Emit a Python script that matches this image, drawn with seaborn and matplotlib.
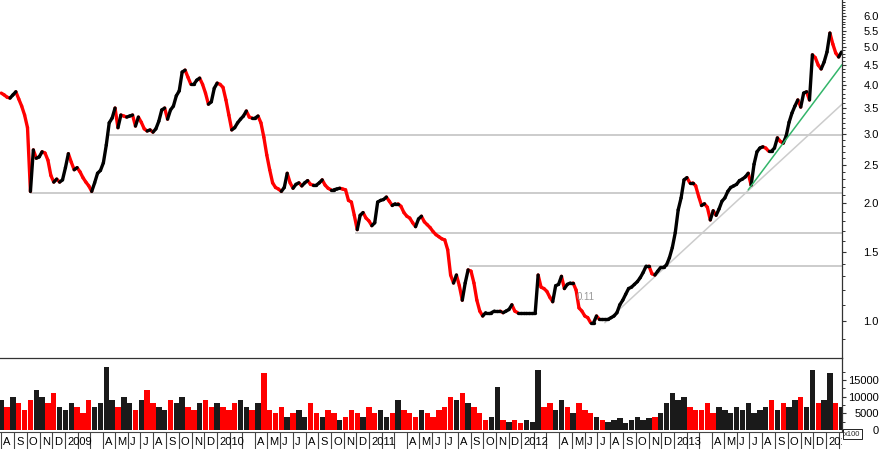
import numpy as np
import pandas as pd
import matplotlib
matplotlib.use('Agg')
import matplotlib.pyplot as plt
from matplotlib.ticker import FixedLocator, NullFormatter, FixedFormatter
import seaborn as sns

# weekly closes, starting 2008-08-01
start = '2008-08-01'
closes = [
    3.81, 3.77, 3.72, 3.70, 3.77, 3.84, 3.68, 3.53, 3.35, 3.11,
    2.14, 2.73, 2.60, 2.62, 2.70, 2.68, 2.57, 2.35, 2.26, 2.30,
    2.26, 2.29, 2.46, 2.67, 2.54, 2.43, 2.46, 2.40, 2.32, 2.26,
    2.21, 2.14, 2.25, 2.38, 2.42, 2.53, 2.81, 3.20, 3.29, 3.49,
    3.11, 3.35, 3.33, 3.31, 3.33, 3.35, 3.14, 3.31, 3.21, 3.09,
    3.05, 3.07, 3.03, 3.09, 3.23, 3.45, 3.49, 3.27, 3.45, 3.53,
    3.75, 3.86, 4.31, 4.36, 4.18, 4.01, 4.01, 4.11, 4.16, 4.01,
    3.81, 3.57, 3.62, 3.92, 4.04, 4.01, 3.94, 3.66, 3.35, 3.07,
    3.11, 3.20, 3.27, 3.33, 3.43, 3.31, 3.29, 3.29, 3.33, 3.20,
    2.94, 2.65, 2.43, 2.25, 2.19, 2.17, 2.14, 2.19, 2.38, 2.25,
    2.18, 2.23, 2.25, 2.21, 2.25, 2.28, 2.23, 2.22, 2.22, 2.25,
    2.29, 2.22, 2.18, 2.16, 2.16, 2.17, 2.18, 2.17, 2.16, 2.03,
    2.01, 1.86, 1.71, 1.86, 1.89, 1.83, 1.80, 1.75, 1.78, 2.01,
    2.03, 2.04, 2.07, 2.02, 1.97, 1.99, 1.99, 1.96, 1.89, 1.85,
    1.83, 1.78, 1.74, 1.82, 1.85, 1.79, 1.76, 1.73, 1.69, 1.66,
    1.64, 1.62, 1.61, 1.52, 1.31, 1.25, 1.31, 1.23, 1.13, 1.25,
    1.35, 1.34, 1.25, 1.13, 1.06, 1.03, 1.05, 1.05, 1.05, 1.06,
    1.06, 1.06, 1.05, 1.06, 1.07, 1.10, 1.06, 1.05, 1.05, 1.05,
    1.05, 1.05, 1.05, 1.05, 1.31, 1.22, 1.21, 1.19, 1.15, 1.12,
    1.23, 1.24, 1.30, 1.21, 1.24, 1.25, 1.25, 1.20, 1.08, 1.06,
    1.03, 1.02, 0.99, 0.99, 1.03, 1.01, 1.01, 1.01, 1.01, 1.02,
    1.03, 1.05, 1.10, 1.13, 1.17, 1.21, 1.22, 1.24, 1.26, 1.29,
    1.33, 1.38, 1.38, 1.32, 1.31, 1.34, 1.37, 1.37, 1.39, 1.45,
    1.54, 1.68, 1.92, 2.06, 2.29, 2.32, 2.25, 2.25, 2.21, 2.08,
    1.97, 1.99, 1.95, 1.81, 1.91, 1.86, 1.93, 2.02, 2.06, 2.14,
    2.19, 2.21, 2.23, 2.28, 2.30, 2.33, 2.38, 2.22, 2.51, 2.70,
    2.76, 2.78, 2.76, 2.71, 2.71, 2.76, 2.93, 2.87, 2.84, 2.96,
    3.21, 3.39, 3.53, 3.66, 3.51, 3.81, 3.84, 3.66, 4.77, 4.69,
    4.49, 4.39, 4.57, 4.85, 5.42, 5.08, 4.82, 4.71, 4.85,
]

# two-weekly volume (x100)
volumes = [
    9000, 7000, 10000, 8000, 6000, 9000,
    12000, 10000, 8000, 11000, 7000,
    6000, 8000, 7000, 5000, 9000, 7000, 8000,
    19000,
    9000, 7000, 10000, 8000, 6000, 9000, 12000, 8000, 7000, 6000,
    9000, 8000, 10000, 7000, 6000, 8000, 9000, 7000, 8000,
    7000, 6000, 8000, 9000, 7000, 6000, 8000, 17000,
    6000, 5000, 7000, 4000, 5000, 6000, 4000, 8000, 5000, 4000,
    6000, 5000, 3000, 4000, 6000, 5000, 4000, 7000, 5000, 6000,
    4000, 5000, 9000, 6000, 5000, 4000, 6000, 5000, 4000, 6000, 7000,
    10000, 9000, 11000, 8000, 7000, 5000,
    3000, 4000, 13000, 3000, 2500, 3000, 2000, 3000, 2500,
    18000,
    7000, 8000, 6000, 9000, 7000, 5000, 8000, 6000, 5000, 4000,
    3000, 2500, 3000, 3500, 2000, 3000, 4000, 3000, 3500, 4000, 5000,
    8000, 11000, 9000, 10000, 7000, 6000,
    6000, 8000, 5000, 7000, 6000, 5000, 7000, 6000, 8000, 5000,
    6000, 7000, 9000, 6000, 8000, 7000, 9000, 10000,
    7000, 18000, 8000, 9000, 17000, 8000, 7000,
]

# horizontal support / resistance lines
support_levels = [2.12, 2.98, 1.68, 1.38]
support_starts = ['2008-10-10', '2009-04-17', '2010-11-27', '2011-08-29']

# trend lines
gray_trend_dates = ['2012-07-19', '2014-02-08']
gray_trend_prices = [0.99, 3.57]
green_trend_dates = ['2013-06-28', '2014-02-08']
green_trend_prices = [2.16, 4.50]

note_date, note_price, note_text = '2012-05-13', 1.15, '0.11'

price_ticks = [1.0, 1.5, 2.0, 2.5, 3.0, 3.5, 4.0, 4.5, 5.0, 5.5, 6.0]
vol_ticks = [0, 5000, 10000, 15000]
month_letters = 'JFMAMJJASOND'

x_left, x_right = pd.Timestamp('2008-07-29'), pd.Timestamp('2014-02-08')

sns.set_theme(style='white')
plt.rcParams['font.family'] = ['Liberation Sans', 'DejaVu Sans']

W, H = 880, 449
fig = plt.figure(figsize=(W / 100, H / 100), dpi=100)
ax_m = fig.add_axes([0, 0, 842 / W, 17 / H])
ax_v = fig.add_axes([0, 18 / H, 842 / W, 73 / H])
ax_p = fig.add_axes([0, 91 / H, 842 / W, 358 / H])
for ax in (ax_m, ax_v, ax_p):
    ax.patch.set_alpha(0)

# price segments, coloured by direction
dates = pd.date_range(start, periods=len(closes), freq='7D')
rows = []
for i in range(1, len(closes)):
    d = 'up' if closes[i] >= closes[i - 1] else 'down'
    rows.append((i, dates[i - 1], closes[i - 1], d))
    rows.append((i, dates[i], closes[i], d))
seg = pd.DataFrame(rows, columns=['seg', 'date', 'price', 'dir'])

ax_p.set_yscale('log')
for lvl, s in zip(support_levels, support_starts):
    ax_p.hlines(lvl, pd.Timestamp(s), x_right, color='#c4c4c4', lw=1.2, zorder=1)
ax_p.plot(pd.to_datetime(gray_trend_dates), gray_trend_prices, color='#cccccc', lw=1.1, zorder=1)
ax_p.plot(pd.to_datetime(green_trend_dates), green_trend_prices, color='#33b56a', lw=1.1, zorder=3)

sns.lineplot(data=seg, x='date', y='price', hue='dir', units='seg', estimator=None,
             palette={'up': 'black', 'down': '#ff0000'}, legend=False, lw=2.4, ax=ax_p, zorder=2)
ax_p.text(pd.Timestamp(note_date), note_price, note_text, color='#999999', fontsize=7, va='center')

ax_p.set_ylim(0.805, 6.58)
ax_p.set_xlabel('')
ax_p.set_ylabel('')
ax_p.yaxis.tick_right()
ax_p.yaxis.set_major_locator(FixedLocator(price_ticks))
ax_p.yaxis.set_major_formatter(FixedFormatter([f'{v:.1f}' for v in price_ticks]))
minor = [round(v, 1) for v in np.arange(0.9, 6.55, 0.1) if round(v, 1) not in price_ticks]
ax_p.yaxis.set_minor_locator(FixedLocator(minor))
ax_p.yaxis.set_minor_formatter(NullFormatter())

# volume
vdates = pd.date_range(start, periods=len(volumes), freq='14D')
vcol = []
for j in range(len(volumes)):
    a = closes[min(2 * j, len(closes) - 1)]
    b = closes[max(2 * j - 2, 0)]
    vcol.append('#1a1a1a' if a >= b else '#ff0000')
ax_v.bar(vdates, volumes, width=13, color=vcol, linewidth=0)
ax_v.set_ylim(-300, 21600)
ax_v.yaxis.tick_right()
ax_v.yaxis.set_major_locator(FixedLocator(vol_ticks))
ax_v.yaxis.set_minor_locator(FixedLocator([2500, 7500, 12500, 17500]))

for ax in (ax_p, ax_v, ax_m):
    ax.set_xlim(x_left, x_right)
for ax in (ax_p, ax_v):
    ax.tick_params(axis='x', bottom=False, labelbottom=False)
    ax.tick_params(axis='y', which='major', direction='out', length=3, width=0.8,
                   color='#333333', labelsize=8, labelcolor='black', pad=23.6, right=True)
    ax.tick_params(axis='y', which='minor', direction='out', length=2, width=0.7,
                   color='#333333', right=True)
    for side in ('left', 'top'):
        ax.spines[side].set_visible(False)
    ax.spines['right'].set_color('#333333')
    ax.spines['right'].set_linewidth(0.9)
    plt.setp(ax.get_yticklabels(), ha='right')
ax_p.spines['bottom'].set_color('#333333')
ax_p.spines['bottom'].set_linewidth(0.9)
ax_v.spines['bottom'].set_visible(False)

# month strip
months = pd.date_range('2008-08-01', '2014-02-01', freq='MS')
ax_m.set_ylim(0, 1)
ax_m.vlines(months, 0, 1, color='#444444', lw=0.8)
for m in months:
    if m.month == 1:
        lab = str(m.year)
    elif m.month in (2, 3):
        continue
    else:
        lab = month_letters[m.month - 1]
    ax_m.text(m + pd.Timedelta(days=5), 0.42, lab, fontsize=8, va='center', ha='left',
              color='black', clip_on=True)
ax_m.tick_params(axis='both', bottom=False, left=False, labelbottom=False, labelleft=False)
for side in ('left', 'right', 'bottom'):
    ax_m.spines[side].set_visible(False)
ax_m.spines['top'].set_color('#444444')
ax_m.spines['top'].set_linewidth(0.8)

fig.text(844 / W, 1 - 434 / H, 'x100', fontsize=5.5, va='center', ha='left',
         bbox=dict(boxstyle='square,pad=0.15', fc='white', ec='black', lw=0.6))

fig.savefig('out.png', dpi=100)
